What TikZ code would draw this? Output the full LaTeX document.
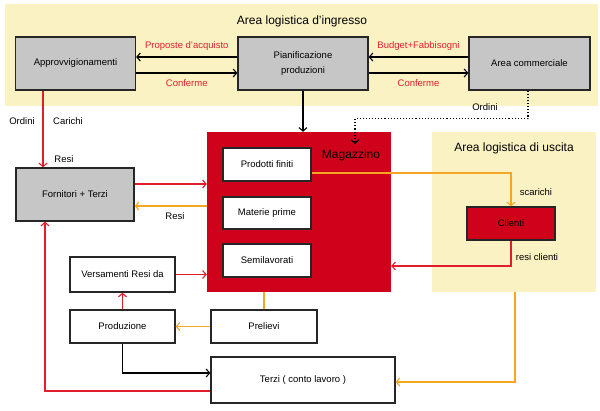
\documentclass[tikz,border=0pt]{standalone}
\usepackage{fontspec}
\setmainfont{Liberation Sans}
\usetikzlibrary{arrows.meta}
\definecolor{bandyellow}{RGB}{251,242,196}
\definecolor{magred}{RGB}{208,2,27}
\definecolor{flowred}{RGB}{226,30,45}
\definecolor{floworange}{RGB}{245,166,35}
\definecolor{boxgrey}{RGB}{198,198,198}

\begin{document}
\begin{tikzpicture}[x=1pt, y=-1pt,
        >={Straight Barb[length=3.5pt, width=8pt]},
        box/.style={draw=black!85, line width=1.3pt, inner sep=1pt, align=center,
            font=\fontsize{9.5}{15}\selectfont},
        greybox/.style={box, fill=boxgrey},
        whitebox/.style={box, fill=white},
        area/.style={fill=#1, inner sep=0pt},
        title/.style={font=\fontsize{12}{14}\selectfont},
        lbl/.style={font=\fontsize{9.5}{11}\selectfont},
        redlbl/.style={lbl, text=flowred},
        flow/.style={->, line width=1.1pt},
        redflow/.style={flow, draw=flowred},
        orangeflow/.style={flow, draw=floworange}]

        \useasboundingbox (0,0) rectangle (600,411);

        \node[area=bandyellow, minimum width=593pt, minimum height=102pt] (ingresso) at (301.5,55) {};
        \node[title] (ingressotitle) at (302,21) {Area logistica d'ingresso};
        \node[area=bandyellow, minimum width=164pt, minimum height=160pt] (uscita) at (514,212) {};
        \node[title] (uscitatitle) at (514,148) {Area logistica di uscita};
        \node[area=magred, minimum width=184pt, minimum height=160pt] (magazzino) at (299,212) {};
        \node[title] (magazzinotitle) at (351,155) {Magazzino};

        \node[greybox, minimum width=120pt, minimum height=53pt] (approv) at (75.5,63.5) {Approvvigionamenti};
        \node[greybox, minimum width=130pt, minimum height=53pt] (pianif) at (303,63.5) {Pianificazione\\produzioni};
        \node[greybox, minimum width=121pt, minimum height=53pt] (commerciale) at (529.5,63.5) {Area commerciale};
        \node[greybox, minimum width=118pt, minimum height=53pt] (fornitori) at (75,194.5) {Fornitori + Terzi};

        \node[whitebox, minimum width=88pt, minimum height=33pt] (prodotti) at (267,164.5) {Prodotti finiti};
        \node[whitebox, minimum width=88pt, minimum height=32pt] (materie) at (267,213) {Materie prime};
        \node[whitebox, minimum width=88pt, minimum height=33pt] (semilav) at (267,260.5) {Semilavorati};
        \node[box, fill=magred, minimum width=88pt, minimum height=33pt] (clienti) at (511,223.5) {Clienti};

        \node[whitebox, minimum width=105pt, minimum height=35pt] (versamenti) at (122.5,274.5) {Versamenti Resi da};
        \node[whitebox, minimum width=105pt, minimum height=33pt] (produzione) at (122.5,326.5) {Produzione};
        \node[whitebox, minimum width=106pt, minimum height=33pt] (prelievi) at (264,326.5) {Prelievi};
        \node[whitebox, minimum width=184pt, minimum height=46pt] (terzi) at (303,380) {Terzi ( conto lavoro )};

        \coordinate (ordend) at (355,144);

        \draw[flow] ([yshift=6.5pt]pianif.west) -- ([yshift=6.5pt]approv.east)
            node[midway, above=3pt, redlbl] {Proposte d'acquisto};
        \draw[flow] ([yshift=-9.5pt]approv.east) -- ([yshift=-9.5pt]pianif.west)
            node[midway, below=3pt, redlbl] {Conferme};
        \draw[flow] ([yshift=6.5pt]commerciale.west) -- ([yshift=6.5pt]pianif.east)
            node[midway, above=3pt, redlbl] {Budget+Fabbisogni};
        \draw[flow] ([yshift=-9.5pt]pianif.east) -- ([yshift=-9.5pt]commerciale.west)
            node[midway, below=3pt, redlbl] {Conferme};
        \draw[flow] (pianif.south) -- (pianif.south |- magazzino.north);
        \draw[flow, dotted] ([xshift=-1.5pt]commerciale.south) -- ++(0,28) -| (ordend);
        \node[lbl] (ordinicomm) at (485,107) {Ordini};

        \draw[redflow] ([xshift=-32.5pt]approv.south) -- ([xshift=-32pt]fornitori.north);
        \node[lbl] (ordini) at (22,121) {Ordini};
        \node[lbl] (carichi) at (68,121) {Carichi};
        \node[lbl] (resiforn) at (64,159) {Resi};

        \draw[redflow] ([yshift=10.5pt]fornitori.east) -- ([yshift=28pt]magazzino.west);
        \draw[orangeflow] ([yshift=6pt]magazzino.west) -- ([yshift=-11.5pt]fornitori.east);
        \node[lbl] (resimag) at (175,216) {Resi};
        \draw[redflow] (versamenti.east) -- (versamenti.east -| magazzino.west);
        \draw[redflow] (produzione.north) -- (versamenti.south);
        \draw[floworange, line width=1.1pt] (prelievi.north |- magazzino.south) -- (prelievi.north);
        \draw[orangeflow] (prelievi.west) -- (produzione.east);
        \draw[flow] (produzione.south) |- ([yshift=7pt]terzi.west);
        \draw[redflow] ([yshift=-11pt]terzi.west) -| ([xshift=-30pt]fornitori.south);

        \draw[orangeflow] ([yshift=-8.5pt]prodotti.east) -| (clienti.north);
        \node[lbl] (scarichi) at (536,192) {scarichi};
        \draw[redflow] (clienti.south) |- ([yshift=-54pt]magazzino.east);
        \node[lbl] (resiclienti) at (537,257) {resi clienti};
        \draw[orangeflow] ([xshift=4pt]clienti.south |- uscita.south) |- ([yshift=-2pt]terzi.east);
    \end{tikzpicture}
\end{document}
